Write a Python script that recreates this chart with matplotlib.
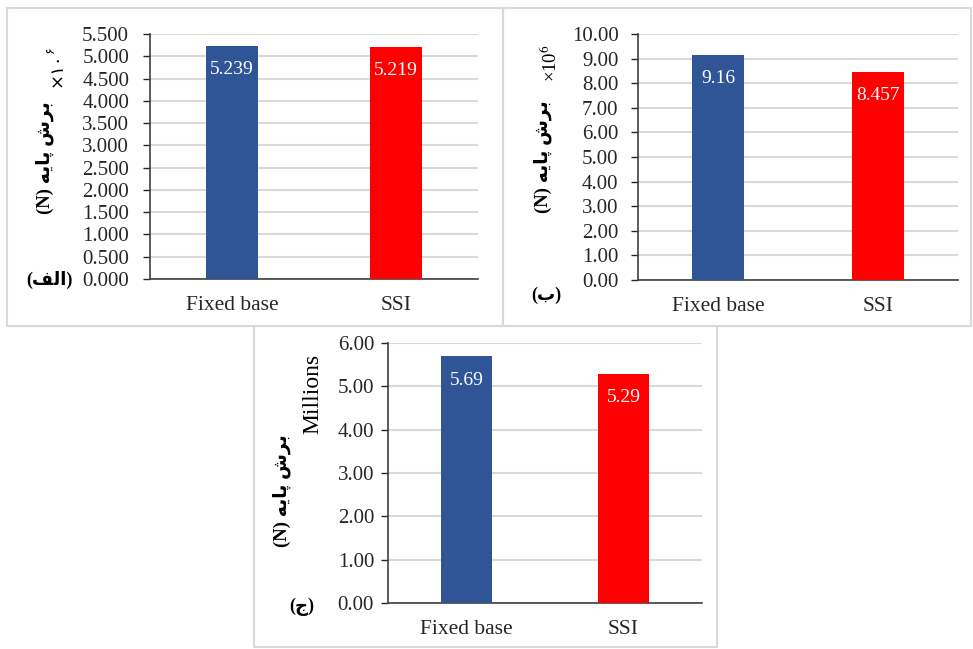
import matplotlib.pyplot as plt
from matplotlib.patches import Rectangle
from matplotlib.ticker import MultipleLocator, FormatStrFormatter

# data
categories = ['Fixed base', 'SSI']
shear_a = [5.239, 5.219]
shear_b = [9.16, 8.457]
shear_c = [5.69, 5.29]
labels_a = ['5.239', '5.219']
labels_b = ['9.16', '8.457']
labels_c = ['5.69', '5.29']
colors = ['#2F5597', '#FF0000']

# Persian texts (presentation forms, visual order)
ylabel_fa = '(N) ' + '\uFEEA\uFBFE\uFE8E\uFB58' + ' ' + '\uFEB5\uFEAE\uFE91'
tag_a = '(\uFED2\uFEDF\uFE8D)'
tag_b = '(\uFE8F)'
tag_c = '(\uFE9D)'

plt.rcParams['font.family'] = ['Liberation Serif', 'DejaVu Sans']
plt.rcParams['mathtext.fontset'] = 'stix'

W, H = 973, 649
fig = plt.figure(figsize=(W / 100, H / 100), dpi=100)


def px_axes(l, t, r, b):
    return fig.add_axes([l / W, 1 - b / H, (r - l) / W, (b - t) / H])


def fig_text(x, y, s, **kw):
    fig.text(x / W, 1 - y / H, s, **kw)


def draw_panel(ax, vals, labs, ymax, step, fmt, pad):
    x = range(len(categories))
    bars = ax.bar(x, vals, width=0.32, color=colors, zorder=3)
    for b, lab in zip(bars, labs):
        ax.annotate(lab, (b.get_x() + b.get_width() / 2, b.get_height()),
                    xytext=(0, -11), textcoords='offset points',
                    ha='center', va='top', color='white', fontsize=14)
    ax.set_xlim(-0.5, 1.5)
    ax.set_ylim(0, ymax)
    ax.yaxis.set_major_locator(MultipleLocator(step))
    ax.yaxis.set_major_formatter(FormatStrFormatter(fmt))
    ax.set_xticks(list(x))
    ax.set_xticklabels(categories)
    ax.tick_params(axis='x', length=0, pad=12.5, labelsize=15.5, colors='#262626')
    ax.tick_params(axis='y', length=5, width=1, direction='out', pad=pad,
                   labelsize=15, colors='#262626')
    ax.grid(axis='y', color='#D9D9D9', linewidth=1.5, zorder=0)
    for s in ['top', 'right']:
        ax.spines[s].set_visible(False)
    for s in ['left', 'bottom']:
        ax.spines[s].set_color('#404040')
        ax.spines[s].set_linewidth(1.2)


# panel borders
for (l, t, r, b) in [(7, 8, 503, 326), (503, 8, 971, 326), (254, 326, 717, 647)]:
    fig.patches.append(Rectangle((l / W, 1 - b / H), (r - l) / W, (b - t) / H,
                                 transform=fig.transFigure, fill=False,
                                 edgecolor='#D9D9D9', linewidth=1.5))

ax1 = px_axes(150, 34, 478, 279)
draw_panel(ax1, shear_a, labels_a, 5.5, 0.5, '%.3f', 10)
ax2 = px_axes(638, 34, 958, 280)
draw_panel(ax2, shear_b, labels_b, 10, 1, '%.2f', 9)
ax3 = px_axes(388, 343, 702, 603)
draw_panel(ax3, shear_c, labels_c, 6, 1, '%.2f', 5)

fa = ['Liberation Serif', 'DejaVu Sans']
fig_text(45, 158, ylabel_fa, rotation=90, ha='center', va='center',
         fontsize=13.5, fontweight='bold', family=fa)
fig_text(57, 70, '×\u06F1\u06F0', rotation=90, ha='center', va='center',
         fontsize=13, family=['DejaVu Sans'])
fig_text(50, 50, '\u06F6', rotation=90, ha='center', va='center',
         fontsize=9, family=['DejaVu Sans'])
fig_text(543, 157, ylabel_fa, rotation=90, ha='center', va='center',
         fontsize=13.5, fontweight='bold', family=fa)
fig_text(550, 63, '×10$^{6}$', rotation=90, ha='center', va='center', fontsize=13.5)
fig_text(282, 491, ylabel_fa, rotation=90, ha='center', va='center',
         fontsize=13.5, fontweight='bold', family=fa)
fig_text(313, 394, 'Millions', rotation=90, ha='center', va='center', fontsize=17)

fig_text(49, 280, tag_a, ha='center', va='center', fontsize=13, fontweight='bold', family=fa)
fig_text(546, 295, tag_b, ha='center', va='center', fontsize=13, fontweight='bold', family=fa)
fig_text(302, 607, tag_c, ha='center', va='center', fontsize=13, fontweight='bold', family=fa)

fig.savefig('out.png', dpi=100)
